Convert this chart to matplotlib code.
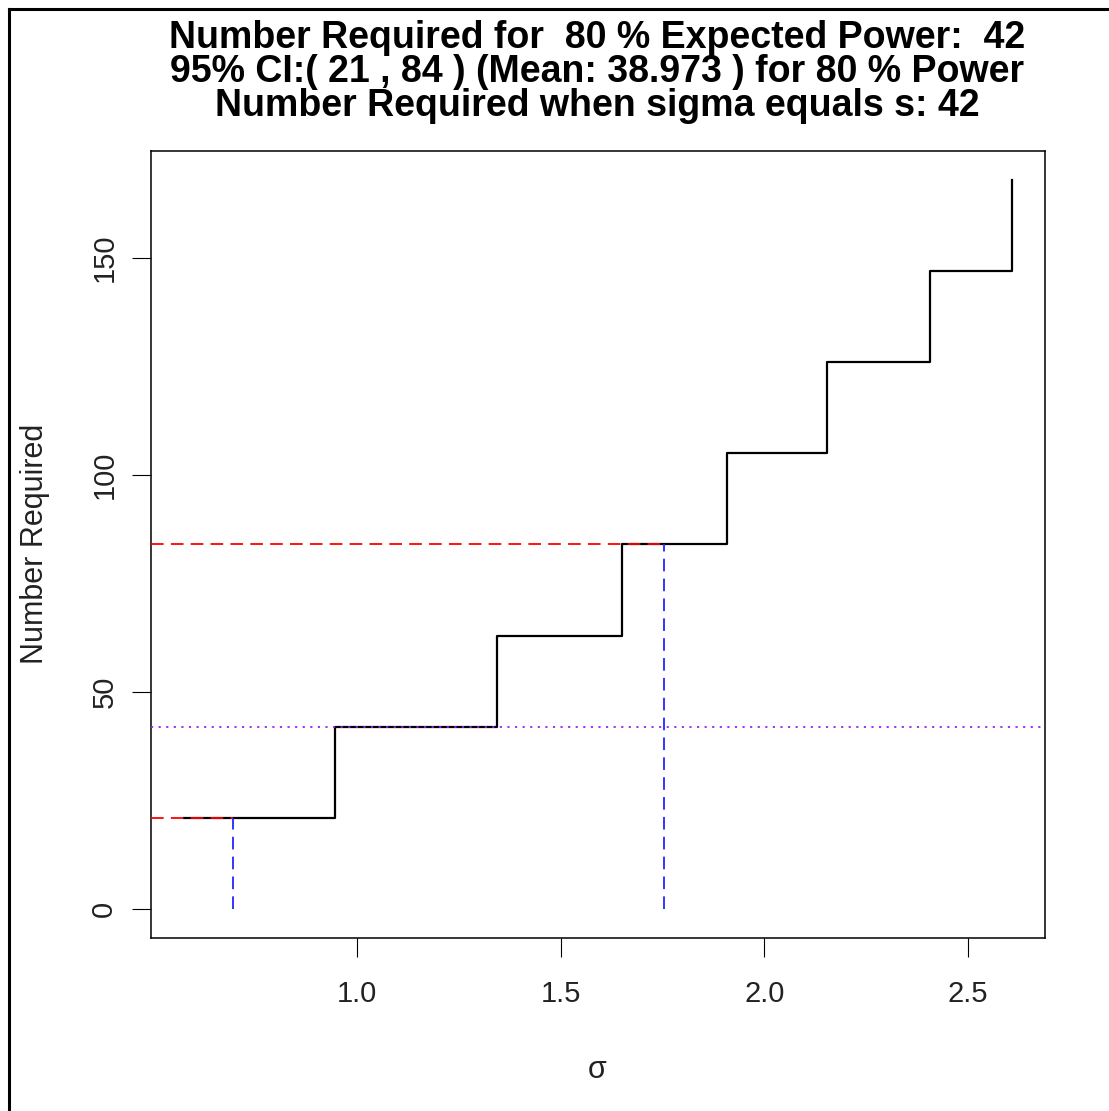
import matplotlib
matplotlib.use("Agg")
import matplotlib.pyplot as plt
from matplotlib.lines import Line2D

# ----------------------------------------------------------------------
# Data
# ----------------------------------------------------------------------
sigma = [0.576, 0.946, 1.343, 1.652, 1.909, 2.154, 2.407, 2.608]
n_required = [21, 42, 63, 84, 105, 126, 147, 168]

ci_sigma = [0.696, 1.755]   # sigma values at the CI bounds
ci_n = [21, 84]             # number required at the CI bounds
n_at_s = 42                 # number required when sigma equals s

x_ticks = [1.0, 1.5, 2.0, 2.5]
y_ticks = [0, 50, 100, 150]

title_lines = [
    "Number Required for  80 % Expected Power:  42",
    "95% CI:( 21 , 84 ) (Mean: 38.973 ) for 80 % Power",
    "Number Required when sigma equals s: 42",
]

# ----------------------------------------------------------------------
# Figure
# ----------------------------------------------------------------------
W, H = 1109, 1111
plt.rcParams["font.family"] = ["Liberation Sans", "DejaVu Sans"]

fig = plt.figure(figsize=(W / 100, H / 100), dpi=100)
ax = fig.add_axes([151 / W, 1 - 938 / H, (1045 - 151) / W, (938 - 151) / H])

# R-style 4% padding on the data range
xr = sigma[-1] - sigma[0]
yr = n_required[-1] - 0
ax.set_xlim(sigma[0] - 0.04 * xr, sigma[-1] + 0.04 * xr)
ax.set_ylim(0 - 0.04 * yr, n_required[-1] + 0.04 * yr)
x0 = ax.get_xlim()[0]

ax.step(sigma, n_required, where="post", color="black", lw=1.6, zorder=2)

# CI guide lines
for s, n in zip(ci_sigma, ci_n):
    ax.plot([x0, s], [n, n], color="#ff0000", lw=1.3, dashes=(7, 4), zorder=3)
    ax.plot([s, s], [0, n], color="#2525ff", lw=1.3, dashes=(7, 4), zorder=3)

ax.axhline(n_at_s, color="#a020f0", lw=1.3, dashes=(1.2, 3), zorder=3)

ax.set_xticks(x_ticks)
ax.set_xticklabels([f"{v:.1f}" for v in x_ticks])
ax.set_yticks(y_ticks)
ax.set_yticklabels([str(v) for v in y_ticks], rotation=90, va="center")
ax.tick_params(direction="out", length=13.5, width=0.8, labelsize=21,
               color="black", labelcolor="#222222")
ax.tick_params(axis="x", pad=17)
ax.tick_params(axis="y", pad=10)
for sp in ax.spines.values():
    sp.set_linewidth(1.1)

# axis labels
fig.text(597 / W, 1 - 1078 / H, "σ", ha="center", va="baseline",
         fontsize=22, color="#222222")
fig.text(43 / W, 1 - 544 / H, "Number Required", ha="center", va="baseline",
         rotation=90, rotation_mode="anchor", fontsize=22, color="#222222")

# three-line bold title
for i, line in enumerate(title_lines):
    fig.text(597 / W, 1 - (48 + 34 * i) / H, line, ha="center", va="baseline",
             fontsize=27, fontweight="bold")

# outer frame (top and left edges)
fig.add_artist(Line2D([9 / W, 9 / W], [0, 1 - 9 / H], transform=fig.transFigure,
                      color="black", lw=2.2))
fig.add_artist(Line2D([9 / W, 1], [1 - 9 / H, 1 - 9 / H], transform=fig.transFigure,
                      color="black", lw=2.2))

fig.savefig("out.png", dpi=100)
